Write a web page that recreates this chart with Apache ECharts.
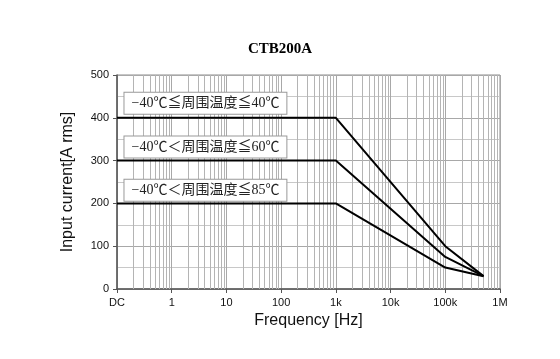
<!DOCTYPE html>
<html>
<head>
<meta charset="utf-8">
<script src="https://cdn.jsdelivr.net/npm/echarts@6/dist/echarts.min.js"></script>
<style>html,body{margin:0;padding:0;background:#fff}#c{width:560px;height:359px}</style>
</head>
<body>
<div id="c"></div>
<script>
var title = 'CTB200A';
var xTickLabels = {0.1:'DC',1:'1',10:'10',100:'100',1000:'1k',10000:'10k',100000:'100k',1000000:'1M'};
var seriesNames = ['−40℃≦周围温度≦40℃', '−40℃＜周围温度≦60℃', '−40℃＜周围温度≦85℃'];
var freq = [0.1, 1000, 100000, 500000];
var current40 = [400, 400, 100, 30];
var current60 = [300, 300, 75, 30];
var current85 = [200, 200, 50, 30];
var labelFreq = 0.137;
var labelCurrent = [434, 332, 231];
var decades = [0.1, 1, 10, 100, 1000, 10000, 100000];
var minorMult = [2, 3, 4, 5, 6, 7, 8, 9];

var minorLines = [];
decades.forEach(function (d) { minorMult.forEach(function (m) { minorLines.push({xAxis: d * m}); }); });

function pairs(xs, ys) { return xs.map(function (x, i) { return [x, ys[i]]; }); }
var allCurrents = [current40, current60, current85];

var series = [{
  type: 'line', data: [], silent: true, z: 1,
  markLine: {
    silent: true, symbol: ['none', 'none'], animation: false,
    label: {show: false},
    lineStyle: {color: '#b4b4b4', width: 1, type: 'solid'},
    emphasis: {disabled: true},
    data: minorLines
  }
}];
allCurrents.forEach(function (c, i) {
  series.push({
    type: 'line', name: seriesNames[i], data: pairs(freq, c), z: 5,
    symbol: 'none', animation: false,
    lineStyle: {color: '#000', width: 2},
    markPoint: {
      symbol: 'circle', symbolSize: 0, animation: false, silent: true,
      data: [{coord: [labelFreq, labelCurrent[i]], value: seriesNames[i]}],
      label: {
        show: true, position: 'right', distance: 0,
        formatter: seriesNames[i],
        fontFamily: 'Liberation Serif, Noto Sans CJK SC', fontSize: 14, color: '#222',
        backgroundColor: '#fff', borderColor: '#999', borderWidth: 1,
        padding: [4, 7, 3, 7]
      }
    }
  });
});

var chart = echarts.init(document.getElementById('c'), null, {renderer: 'canvas'});
chart.setOption({
  animation: false,
  backgroundColor: '#fff',
  title: {
    text: title, left: 'center', top: 37,
    textStyle: {fontFamily: 'Liberation Serif', fontWeight: 'bold', fontSize: 15, color: '#000'}
  },
  grid: {left: 117, right: 60, top: 75, bottom: 70, show: true, borderColor: '#8c8c8c', borderWidth: 1},
  xAxis: {
    type: 'log', logBase: 10, min: 0.1, max: 1000000, splitNumber: 7,
    name: 'Frequency [Hz]', nameLocation: 'middle', nameGap: 22,
    nameTextStyle: {fontFamily: 'Liberation Sans', fontSize: 16, color: '#111'},
    axisLine: {lineStyle: {color: '#555', width: 1.5}},
    axisTick: {show: true, length: 4, lineStyle: {color: '#555'}},
    axisLabel: {
      fontFamily: 'Liberation Sans', fontSize: 11, color: '#111', margin: 8,
      formatter: function (v) {
        var keys = Object.keys(xTickLabels);
        for (var i = 0; i < keys.length; i++) {
          if (Math.abs(Math.log10(v) - Math.log10(+keys[i])) < 1e-6) return xTickLabels[keys[i]];
        }
        return '';
      }
    },
    splitLine: {show: true, lineStyle: {color: '#a8a8a8', width: 1}}
  },
  yAxis: {
    type: 'value', min: 0, max: 500, interval: 100,
    name: 'Input current[A rms]', nameLocation: 'middle', nameGap: 41,
    nameTextStyle: {fontFamily: 'Liberation Sans', fontSize: 16, color: '#111'},
    axisLine: {show: true, lineStyle: {color: '#555', width: 1.5}},
    axisTick: {show: true, length: 4, lineStyle: {color: '#555'}},
    axisLabel: {fontFamily: 'Liberation Sans', fontSize: 11, color: '#111', margin: 8},
    splitLine: {show: true, lineStyle: {color: '#a8a8a8', width: 1}},
    minorTick: {show: false, splitNumber: 2},
    minorSplitLine: {show: true, lineStyle: {color: '#c8c8c8', width: 1}}
  },
  series: series
});
</script>
</body>
</html>
